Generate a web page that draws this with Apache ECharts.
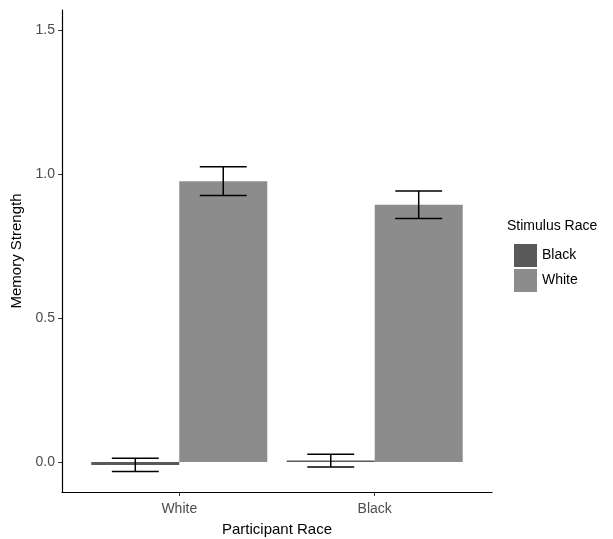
<!DOCTYPE html>
<html>
<head>
<meta charset="utf-8">
<script src="https://cdn.jsdelivr.net/npm/echarts@6/dist/echarts.min.js"></script>
<style>
  html, body { margin: 0; padding: 0; background: #fff; }
  #chart { width: 613px; height: 539px; }
</style>
</head>
<body>
<div id="chart"></div>
<script>
// 数据
var participantRace = ['White', 'Black'];
var stimulusRace = ['Black', 'White'];
var meanBlackStim = [-0.01, 0.005];
var meanWhiteStim = [0.975, 0.893];
var errBlackStim = [0.023, 0.022];
var errWhiteStim = [0.05, 0.048];
var yTicks = [0.0, 0.5, 1.0, 1.5];
var xPos = [1, 2];

var colors = ['#595959', '#8c8c8c'];
var font = '"Liberation Sans", Arial, sans-serif';

function toPairs(vals) {
    return vals.map(function (v, i) { return [xPos[i], v]; });
}

// 误差线 series
function errorSeries(name, means, errs, side) {
    var data = means.map(function (m, i) { return [xPos[i], m - errs[i], m + errs[i]]; });
    return {
        name: name + '_err',
        type: 'custom',
        z: 10,
        silent: true,
        renderItem: function (params, api) {
            var unit = api.size([1, 0])[0];
            var off = side * unit * 0.225;
            var lo = api.coord([api.value(0), api.value(1)]);
            var hi = api.coord([api.value(0), api.value(2)]);
            var x = lo[0] + off;
            var half = unit * 0.12;
            var st = { stroke: '#000', lineWidth: 1.5 };
            return {
                type: 'group',
                children: [
                    { type: 'line', shape: { x1: x, y1: lo[1], x2: x, y2: hi[1] }, style: st },
                    { type: 'line', shape: { x1: x - half, y1: lo[1], x2: x + half, y2: lo[1] }, style: st },
                    { type: 'line', shape: { x1: x - half, y1: hi[1], x2: x + half, y2: hi[1] }, style: st }
                ]
            };
        },
        encode: { x: 0, y: [1, 2] },
        data: data
    };
}

var myChart = echarts.init(document.getElementById('chart'));
myChart.setOption({
    animation: false,
    textStyle: { fontFamily: font },
    grid: { left: 62, right: 121, top: 10, bottom: 47, containLabel: false, outerBoundsMode: 'none' },
    legend: {
        data: stimulusRace,
        orient: 'vertical',
        left: 509,
        top: 239,
        itemWidth: 23,
        itemHeight: 23,
        itemGap: 2,
        icon: 'rect',
        textStyle: { fontSize: 14, color: '#000', fontFamily: font }
    },
    graphic: [{
        type: 'text',
        left: 507,
        top: 219,
        style: { text: 'Stimulus Race', fontSize: 14, fill: '#000', fontFamily: font }
    }],
    xAxis: {
        type: 'value',
        min: 0.4,
        max: 2.6,
        name: 'Participant Race',
        nameLocation: 'middle',
        nameGap: 30,
        nameTextStyle: { fontSize: 15, color: '#000' },
        axisLine: { onZero: false, lineStyle: { color: '#000', width: 1.2 } },
        axisTick: { show: true, length: 4, lineStyle: { color: '#333' }, customValues: xPos },
        axisLabel: {
            fontSize: 14, color: '#4d4d4d', margin: 10,
            customValues: xPos,
            formatter: function (v) { return participantRace[Math.round(v) - 1]; }
        },
        splitLine: { show: false }
    },
    yAxis: {
        type: 'value',
        min: -0.104,
        max: 1.569,
        name: 'Memory Strength',
        nameLocation: 'middle',
        nameGap: 36,
        nameTextStyle: { fontSize: 15, color: '#000' },
        axisLine: { show: true, onZero: false, lineStyle: { color: '#000', width: 1.2 } },
        axisTick: { show: true, length: 4, lineStyle: { color: '#333' }, customValues: yTicks },
        axisLabel: {
            fontSize: 14, color: '#4d4d4d', margin: 7,
            customValues: yTicks,
            formatter: function (v) { return v.toFixed(1); }
        },
        splitLine: { show: false }
    },
    series: [
        {
            name: stimulusRace[0],
            type: 'bar',
            data: toPairs(meanBlackStim),
            itemStyle: { color: colors[0] },
            barWidth: 88,
            barGap: '0%'
        },
        {
            name: stimulusRace[1],
            type: 'bar',
            data: toPairs(meanWhiteStim),
            itemStyle: { color: colors[1] },
            barWidth: 88,
            barGap: '0%'
        },
        errorSeries(stimulusRace[0], meanBlackStim, errBlackStim, -1),
        errorSeries(stimulusRace[1], meanWhiteStim, errWhiteStim, 1)
    ]
});
</script>
</body>
</html>
